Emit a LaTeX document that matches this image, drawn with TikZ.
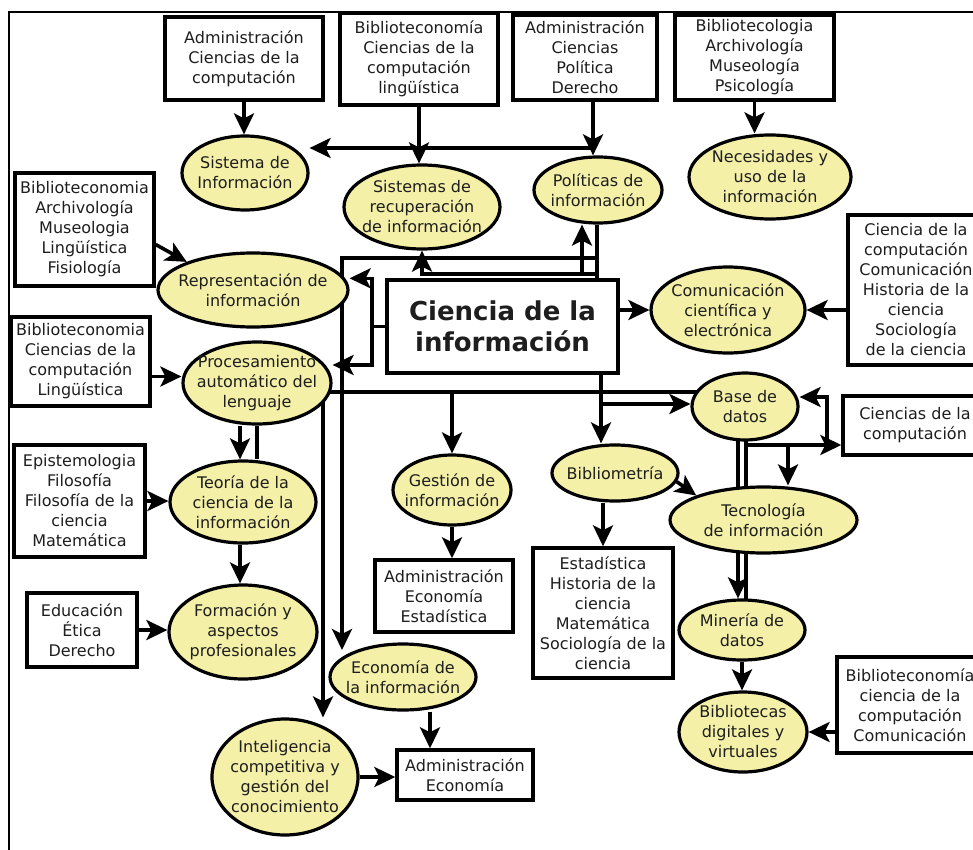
\documentclass[tikz,border=0pt]{standalone}
\usepackage{fontspec}
\setmainfont{DejaVu Sans}
\usepackage{tikz}
\usetikzlibrary{calc}
\usetikzlibrary{shapes.geometric}
\usetikzlibrary{arrows.meta}
\usetikzlibrary{backgrounds}

\definecolor{amarillo}{RGB}{244,240,168}
\definecolor{tinta}{RGB}{30,30,30}

\begin{document}
\begin{tikzpicture}[x=1pt, y=-1pt,
	texto/.style={align=center, font=\fontsize{16}{20}\selectfont, text=tinta, inner sep=0pt},
	caja/.style={draw, line width=3.4pt, fill=white, texto},
	elipse/.style={ellipse, draw, line width=3.2pt, fill=amarillo, inner sep=0pt, label={[texto]center:{#1}}},
	linea/.style={line width=3.6pt},
	flecha/.style={line width=3.6pt, -{Stealth[length=21pt, width=20pt, inset=5pt]}}]

			\useasboundingbox (0,0) rectangle (973,850);

			\node[caja, minimum width=158pt, minimum height=83pt] (b1) at (244,58.5) {Administración\\Ciencias de la\\computación};
			\node[caja, minimum width=158pt, minimum height=92pt] (b2) at (419,59) {Biblioteconomía\\Ciencias de la\\computación\\lingüística};
			\node[caja, minimum width=144pt, minimum height=85pt] (b3) at (585,57.5) {Administración\\Ciencias\\Política\\Derecho};
			\node[caja, minimum width=159pt, minimum height=85pt] (b4) at (754.5,57.5) {Bibliotecologia\\Archivología\\Museología\\Psicología};
			\node[caja, minimum width=139pt, minimum height=113pt] (b5) at (84.5,229.5) {Biblioteconomia\\Archivología\\Museologia\\Lingüística\\Fisiología};
			\node[caja, minimum width=136pt, minimum height=150pt] (b6) at (916,290) {Ciencia de la\\computación\\Comunicación\\Historia de la\\ciencia\\Sociología\\de la ciencia};
			\node[caja, minimum width=139pt, minimum height=89pt] (b7) at (80.5,361.5) {Biblioteconomia\\Ciencias de la\\computación\\Lingüística};
			\node[caja, minimum width=131pt, minimum height=112pt] (b8) at (79.5,501) {Epistemologia\\Filosofía\\Filosofía de la\\ciencia\\Matemática};
			\node[caja, minimum width=110pt, minimum height=74pt] (b9) at (82,630) {Educación\\Ética\\Derecho};
			\node[caja, minimum width=138pt, minimum height=72pt] (b10) at (444,596) {Administración\\Economía\\Estadística};
			\node[caja, minimum width=140pt, minimum height=130pt] (b11) at (603,613) {Estadística\\Historia de la\\ciencia\\Matemática\\Sociología de la\\ciencia};
			\node[caja, minimum width=136pt, minimum height=50pt] (b12) at (465,775) {Administración\\Economía};
			\node[caja, minimum width=144pt, minimum height=59pt] (b13) at (915,425.5) {Ciencias de la\\computación};
			\node[caja, minimum width=146pt, minimum height=96pt] (b14) at (910,705) {Biblioteconomía\\ciencia de la\\computación\\Comunicación};

			\node[caja, minimum width=231pt, minimum height=93pt, font=\fontsize{26}{31}\selectfont\bfseries] (main) at (502.5,326.5) {Ciencia de la\\información};

			\node[elipse={Sistema de\\Información}, minimum width=126pt, minimum height=74pt] (e1) at (245,173) {};
			\node[elipse={Sistemas de\\recuperación\\de información}, minimum width=156pt, minimum height=84pt] (e2) at (422,207) {};
			\node[elipse={Políticas de\\información}, minimum width=128pt, minimum height=66pt] (e3) at (598,190) {};
			\node[elipse={Necesidades y\\uso de la\\información}, minimum width=162pt, minimum height=84pt] (e4) at (770,177) {};
			\node[elipse={Representación de\\información}, minimum width=190pt, minimum height=74pt] (e5) at (253,290) {};
			\node[elipse={Comunicación\\científica y\\electrónica}, minimum width=154pt, minimum height=86pt] (e6) at (728,310) {};
			\node[elipse={Procesamiento\\automático del\\lenguaje}, minimum width=148pt, minimum height=82pt] (e7) at (257,383) {};
			\node[elipse={Base de\\datos}, minimum width=106pt, minimum height=67pt] (e8) at (745,406.5) {};
			\node[elipse={Teoría de la\\ciencia de la\\información}, minimum width=146pt, minimum height=82pt] (e9) at (243,502) {};
			\node[elipse={Gestión de\\información}, minimum width=118pt, minimum height=70pt] (e10) at (452,490) {};
			\node[elipse={Bibliometría}, minimum width=126pt, minimum height=56pt] (e11) at (615,473) {};
			\node[elipse={Tecnología\\de información}, minimum width=187pt, minimum height=66pt] (e12) at (763.5,520) {};
			\node[elipse={Formación y\\aspectos\\profesionales}, minimum width=148pt, minimum height=94pt] (e13) at (243,632) {};
			\node[elipse={Economía de\\la información}, minimum width=146pt, minimum height=66pt] (e14) at (403,677) {};
			\node[elipse={Minería de\\datos}, minimum width=126pt, minimum height=60pt] (e15) at (742,630) {};
			\node[elipse={Bibliotecas\\digitales y\\virtuales}, minimum width=128pt, minimum height=80pt] (e16) at (743,732) {};
			\node[elipse={Inteligencia\\competitiva y\\gestión del\\conocimiento}, minimum width=146pt, minimum height=116pt] (e17) at (285,777) {};

			\coordinate (j1) at (593,148);
			\coordinate (j2) at ([xshift=-13.5pt]main.west);
			\coordinate (j4) at (597,258);
			\coordinate (j5) at (342,258);
			\coordinate (j6) at (597,274);
			\coordinate (j7) at ([yshift=-9pt]e7.center);
			\coordinate (j8) at (323,392);
			\coordinate (j9) at (601,404);
			\coordinate (j10) at (746,445);
			\coordinate (j11) at (827,445);
			\coordinate (j12) at (788,445);

			\begin{pgfonlayer}{background}
			\draw[line width=1.8pt] (9,850) -- (9,12) -- (973,12);

			\draw[flecha] (b1.south) -- (b1.south |- e1.north);
			\draw[flecha] (b2.south) -- (b2.south |- e2.north);
			\draw[flecha] (b3.south -| j1) -- (e3.north -| j1);
			\draw[flecha] (j1) -- (j1 -| e1.east);
			\draw[flecha] (b4.south) -- (b4.south |- e4.north);
			\draw[flecha] ([yshift=-15pt]b5.east) -- (e5.157);
			\draw[flecha] ([yshift=-15pt]b7.east) -- ([yshift=-15pt]b7.east -| e7.west);
			\draw[flecha] (b8.east) -- (b8.east -| e9.west);
			\draw[flecha] (b9.east) -- (b9.east -| e13.west);

			\draw[flecha] ([xshift=-17pt]e7.south) -- ([xshift=-17pt]e7.south |- e9.north);
			\draw[linea] (e7.south) -- (e7.south |- e9.north);
			\draw[flecha] ([xshift=-3pt]e9.south) -- ([xshift=-3pt]e9.south |- e13.north);

			\draw[linea] (main.west) -- (j2);
			\draw[flecha] (j2) |- (main.north -| e5.east);
			\draw[flecha] (j2) |- ([yshift=18pt]e7.east);

			\draw[linea] ([xshift=-1pt]e3.south) -- ([xshift=-1pt]e3.south |- main.north);
			\draw[flecha] (j4) -- (j5) -- (j5 |- e14.150);
			\draw[flecha] (j6) -| (e2.south);
			\draw[flecha] ([xshift=-16pt]e3.south |- j6) -- ([xshift=-16pt]e3.south);

			\draw[flecha] (main.east |- e6.west) -- (e6.west);
			\draw[flecha] (b6.west |- e6.east) -- (e6.east);

			\draw[linea] (j7) -- (j7 -| e8.center);
			\draw[flecha] (e10.north |- j7) -- (e10.north);
			\draw[flecha] (j8) -- (j8 |- e17.north);

			\draw[flecha] (j9 |- main.south) -- (j9 |- e11.north);
			\draw[flecha] (j9) -- (j9 -| e8.west);
			\draw[flecha] (e11.-8) -- (e12.160);
			\draw[flecha] (b11.north |- e11.south) -- (b11.north);
			\draw[flecha] (e10.south) -- (e10.south |- b10.north);
			\draw[flecha] ([xshift=27pt]e14.south) -- ([xshift=27pt]e14.south |- b12.north);
			\draw[flecha] (e17.east) -- (e17.east -| b12.west);

			\draw[flecha] ([xshift=-7pt]e8.center) -- ([xshift=-7pt]e8.center |- e15.north);
			\draw[linea] ([xshift=1pt]e8.center) -- ([xshift=1pt]e8.center |- e15.center);
			\draw[flecha] (j10) -- (j10 -| b13.west);
			\draw[flecha] (j11) |- ([yshift=9.5pt]e8.east);
			\draw[flecha] (j12) -- (j12 |- e12.north);
			\draw[flecha] (e15.south) -- (e15.south |- e16.north);
			\draw[flecha] (b14.west |- e16.east) -- (e16.east);
			\end{pgfonlayer}
		\end{tikzpicture}
\end{document}
